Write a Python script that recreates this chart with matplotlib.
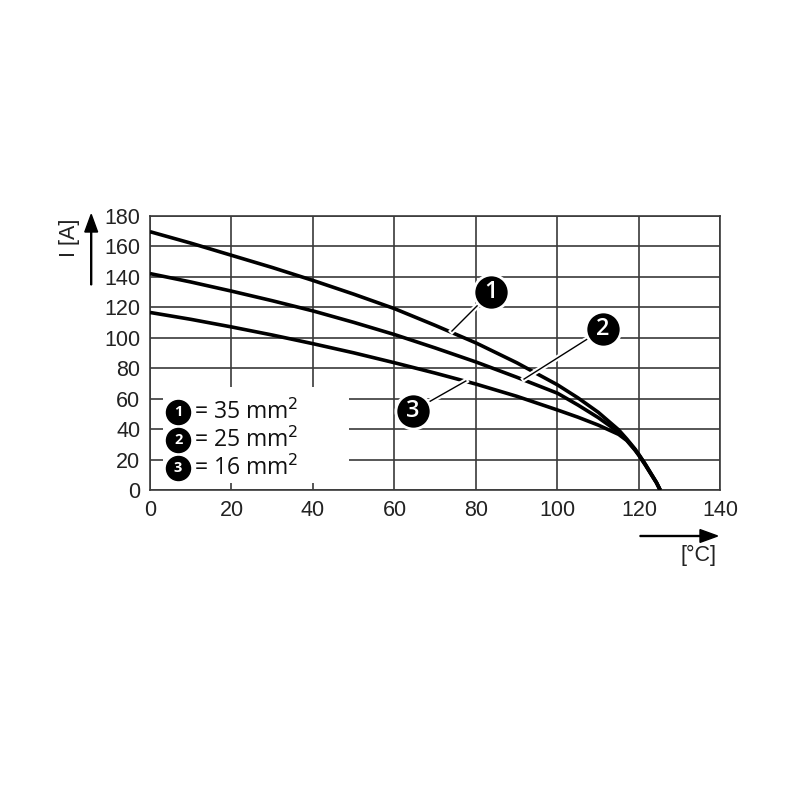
import matplotlib.pyplot as plt
import matplotlib.patheffects as pe
from matplotlib.patches import Rectangle, FancyArrow

# temperature [°C] and current [A]
temp = [0, 10, 20, 30, 40, 50, 60, 70, 80, 90, 100, 105, 110, 115, 117, 119, 120, 121.5, 123, 124.3, 125.2]
i_35 = [169.5, 162, 154, 146, 137.5, 128.5, 119, 108, 96.5, 83.5, 69, 60.5, 51, 39.5, 33.5, 27, 23.2, 17.2, 10.6, 4.9, 0]
i_25 = [142, 136.5, 130.5, 124.2, 117.5, 110, 102, 93.2, 84, 74, 63.5, 55.8, 47.5, 38, 32.8, 26.6, 22.9, 16.9, 10.4, 4.8, 0]
i_16 = [116.5, 112, 107, 101.7, 96, 90, 83.5, 76.7, 69.5, 61.5, 52.5, 47.8, 42.6, 36.5, 32.5, 26.2, 22.6, 16.6, 10.2, 4.7, 0]

labels = ['1', '2', '3']
sections = ['35', '25', '16']
# callout bubble position and the point on the curve it points to
bubble_pos = [(83.7, 130), (111.2, 105.6), (64.5, 51.8)]
curve_pos = [(74.1, 104.3), (91.8, 72.8), (77.5, 71.5)]

xticks = list(range(0, 141, 20))
yticks = list(range(0, 181, 20))

fig = plt.figure(figsize=(8, 8), dpi=100)
ax = fig.add_axes([0.1875, 0.3875, 0.7131, 0.3429])

grid_col = '#3a3a3a'
ax.set_xlim(0, 140)
ax.set_ylim(0, 180)
ax.set_xticks(xticks)
ax.set_yticks(yticks)
ax.tick_params(length=0, labelsize=15.5, pad=7, colors='#222222')
for lab in ax.get_xticklabels() + ax.get_yticklabels():
    lab.set_fontfamily('Liberation Sans')
ax.grid(True, color=grid_col, linewidth=1.2, zorder=1)
ax.set_axisbelow(True)
for s in ax.spines.values():
    s.set_color(grid_col)
    s.set_linewidth(1.2)

# white box for the legend
ax.add_patch(Rectangle((3.2, 4.5), 45.6, 63, facecolor='white', edgecolor='none', zorder=2))

# curves
for y in [i_35, i_25, i_16]:
    ax.plot(temp, y, color='black', linewidth=2.6, zorder=3,
            solid_capstyle='butt', solid_joinstyle='round')

# callouts
halo = [pe.withStroke(linewidth=4, foreground='white')]
for lab, (bx, by), (cx, cy) in zip(labels, bubble_pos, curve_pos):
    ax.plot([cx, bx], [cy, by], color='black', linewidth=1, zorder=4, path_effects=halo)
    ax.scatter([bx], [by], s=640, color='black', edgecolors='white', linewidths=2, zorder=5)
    ax.text(bx, by, lab, color='white', fontsize=17, fontweight='semibold', ha='center',
            va='center', family='Open Sans', zorder=6)

# legend
legend_y = [51.2, 32.8, 14.4]
for lab, sec, ly in zip(labels, sections, legend_y):
    ax.scatter([6.9], [ly], s=300, color='black', zorder=5)
    ax.text(6.9, ly, lab, color='white', fontsize=10.5, fontweight='bold', ha='center',
            va='center', family='Open Sans', zorder=6)
    ax.text(10.8, ly, '= ' + sec + ' mm$^2$', fontsize=16.5, ha='left', va='center',
            family='Open Sans', color='#111111', zorder=6)

# axis labels with arrows
fig.text(0.0875, 0.7025, 'I [A]', rotation=90, fontsize=15.5, ha='center', va='center',
         family='Liberation Sans', color='#222222')
fig.patches.append(FancyArrow(
    0.114, 0.644, 0, 0.066, width=0.0012, head_width=0.016, head_length=0.022,
    length_includes_head=False, color='black', transform=fig.transFigure, figure=fig))
fig.text(0.8725, 0.306, '[°C]', fontsize=15.5, ha='center', va='center',
         family='Liberation Sans', color='#222222')
fig.patches.append(FancyArrow(
    0.80, 0.33, 0.075, 0, width=0.0012, head_width=0.016, head_length=0.022,
    length_includes_head=False, color='black', transform=fig.transFigure, figure=fig))

fig.savefig('out.png', dpi=100, facecolor='white')
